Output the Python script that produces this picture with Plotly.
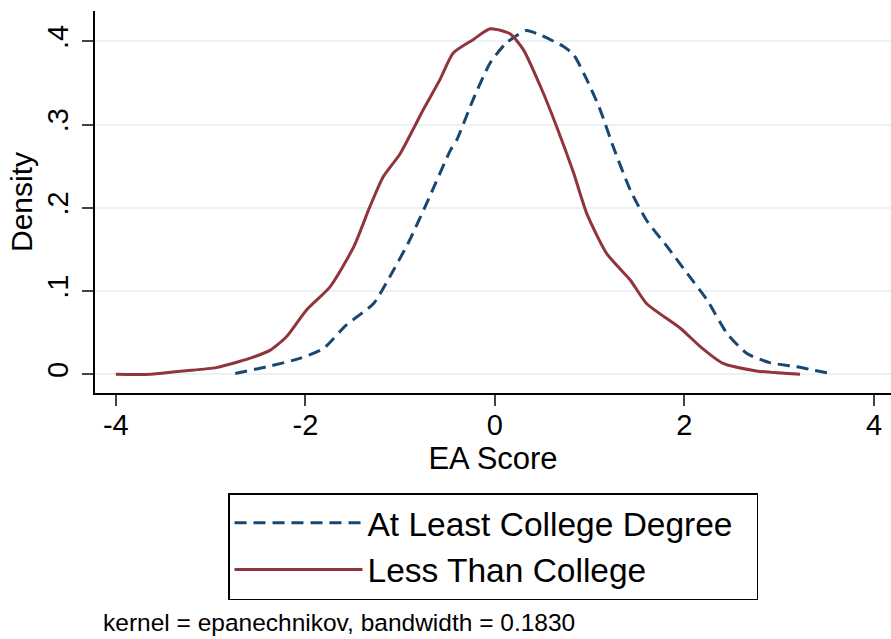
import plotly.graph_objects as go

# kernel density estimates
college_x = [-2.74, -2.41, -2.06, -1.81, -1.57, -1.28, -1.11, -0.90, -0.69, -0.47, -0.40,
             -0.23, -0.05, 0.12, 0.33, 0.47, 0.72, 0.83, 0.97, 1.11, 1.25, 1.43, 1.60,
             1.82, 2.03, 2.24, 2.45, 2.66, 2.90, 3.18, 3.54]
college_y = [0.001, 0.009, 0.019, 0.031, 0.059, 0.085, 0.117, 0.161, 0.213, 0.269, 0.282,
             0.330, 0.374, 0.398, 0.413, 0.408, 0.394, 0.384, 0.354, 0.318, 0.273, 0.221, 0.185,
             0.153, 0.121, 0.089, 0.049, 0.025, 0.014, 0.009, 0.001]

less_x = [-4.00, -3.64, -3.29, -2.94, -2.59, -2.37, -2.20, -1.99, -1.74, -1.49, -1.32,
          -1.18, -1.00, -0.755, -0.58, -0.44, -0.23, -0.05, 0.16, 0.30, 0.48, 0.65, 0.83,
          0.97, 1.18, 1.43, 1.60, 1.96, 2.17, 2.41, 2.76, 3.22]
less_y = [0.0, 0.0, 0.004, 0.008, 0.019, 0.029, 0.045, 0.077, 0.105, 0.153, 0.201,
          0.237, 0.265, 0.318, 0.354, 0.386, 0.402, 0.415, 0.409, 0.390, 0.346, 0.298, 0.242,
          0.193, 0.145, 0.113, 0.085, 0.055, 0.033, 0.013, 0.004, 0.0]

x_ticks = [-4, -2, 0, 2, 4]
x_labels = ['-4', '-2', '0', '2', '4']
y_ticks = [0, 0.1, 0.2, 0.3, 0.4]
y_labels = ['0', '.1', '.2', '.3', '.4']

font = 'Liberation Sans, Arial, sans-serif'
pad = '\u00a0\u00a0'  # a bit of room on the right side of the legend box

fig = go.Figure()
fig.add_trace(go.Scatter(x=college_x, y=college_y, mode='lines', name='At Least College Degree' + pad,
                         line=dict(color='#1a476f', width=3, dash='12px,7px', shape='spline', smoothing=0.6)))
fig.add_trace(go.Scatter(x=less_x, y=less_y, mode='lines', name='Less Than College' + pad,
                         line=dict(color='#90353b', width=3, shape='spline', smoothing=0.6)))

fig.update_layout(
    width=891, height=639,
    margin=dict(l=95, r=0, t=11, b=246),
    plot_bgcolor='white', paper_bgcolor='white',
    font=dict(family=font, color='black', size=29),
    showlegend=True,
    legend=dict(x=0.5, y=-0.262, xanchor='center', yanchor='top',
                bordercolor='black', borderwidth=1.5, font=dict(size=33.5),
                itemwidth=128, tracegroupgap=0),
    annotations=[dict(text='kernel = epanechnikov, bandwidth = 0.1830', xref='paper', yref='paper',
                      x=0.0075, y=-0.602, xanchor='left', yanchor='middle', showarrow=False,
                      font=dict(size=24.5))],
)
fig.update_xaxes(range=[-4.22, 4.18], tickvals=x_ticks, ticktext=x_labels, ticks='outside',
                 ticklen=11, tickwidth=1.5, ticklabelstandoff=-6,
                 showline=True, linecolor='black', linewidth=1.5, showgrid=False, zeroline=False,
                 title=dict(text='EA Score', font=dict(size=31), standoff=4))
fig.update_yaxes(range=[-0.0225, 0.4364], tickvals=y_ticks, ticktext=y_labels, tickangle=-90,
                 ticks='outside', ticklen=11, tickwidth=1.5, ticklabelstandoff=3,
                 showline=True, linecolor='black', linewidth=1.5, showgrid=True, gridcolor='#eaf2f3',
                 gridwidth=2, zeroline=False,
                 title=dict(text='Density', font=dict(size=30), standoff=0))

fig.write_html("out.html", config={'displayModeBar': False},
               post_script="document.body.style.margin='0px';")
